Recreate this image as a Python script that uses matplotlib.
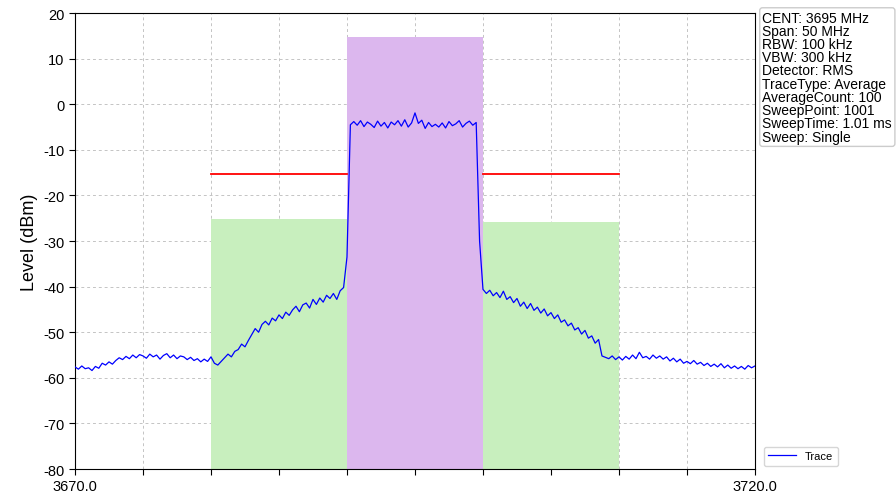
import numpy as np
import matplotlib
matplotlib.use("Agg")
import matplotlib.pyplot as plt

plt.rcParams["font.family"] = ["Liberation Sans", "DejaVu Sans"]
plt.rcParams["axes.unicode_minus"] = False

# sweep 3670 .. 3720 MHz, 0.25 MHz step
freq_start = 3670.0
freq_stop = 3720.0
freq_step = 0.25

trace_dbm = [
    -57.6, -58.1, -57.4, -58.0,   # 3670
    -57.8, -58.4, -57.5, -57.9,   # 3671
    -56.8, -57.2, -56.5, -57.0,   # 3672
    -56.2, -55.6, -56.0, -55.3,   # 3673
    -55.8, -55.0, -55.6, -54.9,   # 3674
    -55.2, -55.7, -54.8, -55.4,   # 3675
    -55.0, -55.9, -55.1, -54.7,   # 3676
    -55.6, -55.0, -55.8, -55.2,   # 3677
    -55.4, -56.0, -55.5, -56.2,   # 3678
    -55.8, -56.5, -55.9, -56.4,   # 3679
    -55.4, -56.8, -57.2, -56.4,   # 3680
    -55.6, -54.8, -55.4, -54.2,   # 3681
    -53.8, -52.6, -53.2, -51.8,   # 3682
    -50.5, -49.2, -50.0, -48.3,   # 3683
    -47.6, -48.4, -46.9, -47.5,   # 3684
    -46.2, -47.0, -45.6, -46.3,   # 3685
    -45.1, -44.3, -45.5, -44.0,   # 3686
    -43.6, -44.7, -42.8, -43.9,   # 3687
    -42.5, -43.4, -41.9, -42.6,   # 3688
    -41.5, -42.8, -40.9, -40.2,   # 3689
    -33.5, -4.5, -3.8, -4.6,      # 3690
    -3.6, -4.9, -3.9, -4.4,       # 3691
    -5.1, -3.7, -4.8, -4.0,       # 3692
    -5.2, -3.9, -4.5, -3.6,       # 3693
    -4.8, -3.4, -5.0, -4.1,       # 3694
    -1.9, -4.2, -3.5, -5.3,       # 3695
    -4.0, -4.9, -4.4, -5.0,       # 3696
    -4.1, -5.2, -3.8, -4.7,       # 3697
    -4.3, -3.6, -5.0, -4.2,       # 3698
    -3.7, -4.6, -4.0, -30.0,      # 3699
    -40.6, -41.5, -40.8, -42.0,   # 3700
    -41.3, -42.4, -41.0, -42.8,   # 3701
    -42.2, -43.5, -42.6, -44.3,   # 3702
    -43.4, -44.8, -43.7, -45.2,   # 3703
    -44.5, -45.8, -44.9, -46.4,   # 3704
    -45.7, -47.0, -46.2, -47.8,   # 3705
    -47.3, -48.6, -48.0, -49.5,   # 3706
    -49.0, -50.4, -49.6, -51.3,   # 3707
    -50.8, -52.4, -51.6, -55.2,   # 3708
    -55.5, -55.8, -55.2, -56.0,   # 3709
    -55.4, -56.1, -55.3, -55.9,   # 3710
    -55.0, -55.8, -54.4, -55.6,   # 3711
    -55.3, -55.9, -55.0, -55.7,   # 3712
    -55.2, -55.9, -55.4, -56.3,   # 3713
    -55.7, -56.5, -55.9, -56.8,   # 3714
    -56.4, -56.9, -56.2, -57.0,   # 3715
    -56.6, -57.3, -56.8, -57.5,   # 3716
    -57.0, -57.6, -56.9, -57.8,   # 3717
    -57.2, -57.9, -57.4, -58.0,   # 3718
    -57.5, -58.1, -57.3, -57.8,   # 3719
    -57.4,                        # 3720
]

# channel / adjacent channel masks: (start, stop, level)
adj_left = (3680.0, 3690.0, -25.2)
main_chan = (3690.0, 3700.0, 14.7)
adj_right = (3700.0, 3710.0, -25.8)
limit_level = -15.3
limit_segments = [(3680.0, 3690.0), (3700.0, 3710.0)]

xtick_vals = [3670, 3675, 3680, 3685, 3690, 3695, 3700, 3705, 3710, 3715, 3720]
xtick_labels = ["3670.0", "", "", "", "", "", "", "", "", "", "3720.0"]
yticks = [-80, -70, -60, -50, -40, -30, -20, -10, 0, 10, 20]

info_lines = [
    "CENT: 3695 MHz",
    "Span: 50 MHz",
    "RBW: 100 kHz",
    "VBW: 300 kHz",
    "Detector: RMS",
    "TraceType: Average",
    "AverageCount: 100",
    "SweepPoint: 1001",
    "SweepTime: 1.01 ms",
    "Sweep: Single",
]

freqs = np.arange(len(trace_dbm)) * freq_step + freq_start

fig = plt.figure(figsize=(8.96, 5.02), dpi=100)
ax = fig.add_axes([0.0837, 0.0637, 0.7589, 0.9083])

for (f0, f1, lvl), col in [(adj_left, "#c8efbe"), (main_chan, "#dcb7ee"), (adj_right, "#c8efbe")]:
    ax.fill_between([f0, f1], -80, lvl, color=col, zorder=1, linewidth=0)

for f0, f1 in limit_segments:
    ax.plot([f0, f1], [limit_level, limit_level], color="red", lw=1.3, zorder=2)

ax.plot(freqs, trace_dbm, color="blue", lw=0.9, label="Trace", zorder=3)

ax.set_xlim(freq_start, freq_stop)
ax.set_ylim(-80, 20)
ax.set_xticks(xtick_vals)
ax.set_xticklabels(xtick_labels)
ax.set_yticks(yticks)
ax.tick_params(labelsize=10.5, length=4)
ax.set_ylabel("Level (dBm)", fontsize=13)
ax.grid(True, linestyle=(0, (3, 3)), color="#c4c4c4", linewidth=0.7, zorder=0)
ax.set_axisbelow(True)

ax.legend(loc="lower left", bbox_to_anchor=(1.005, -0.005), fontsize=8,
          handlelength=2.5, frameon=True)

fig.text(0.851, 0.977, "\n".join(info_lines), fontsize=10, va="top", ha="left",
         linespacing=0.93,
         bbox=dict(boxstyle="round,pad=0.2", fc="white", ec="#cccccc"))

fig.savefig("out.png", dpi=100)
